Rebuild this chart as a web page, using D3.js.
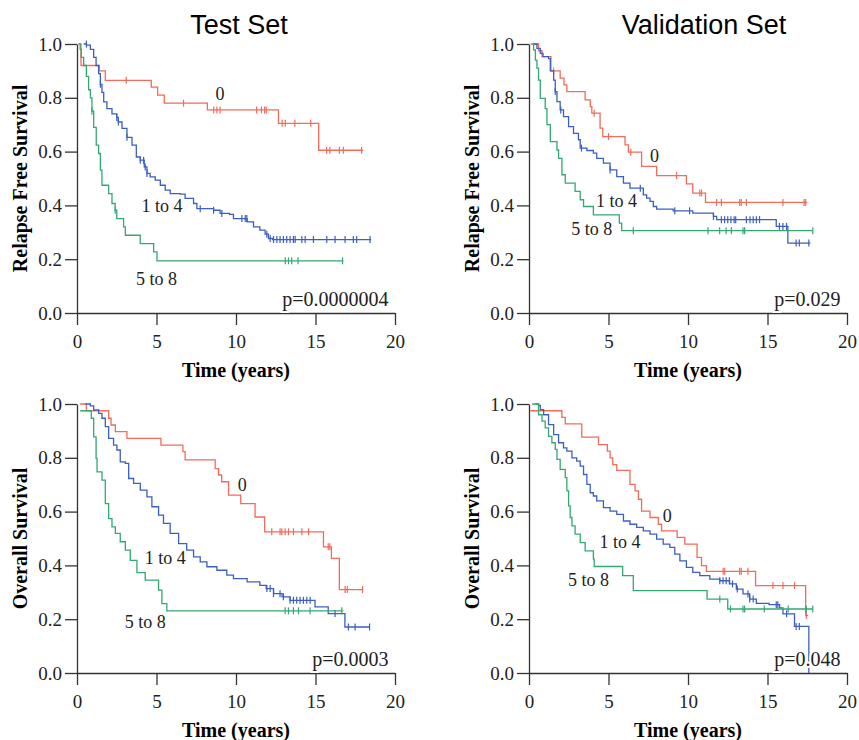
<!DOCTYPE html>
<html>
<head>
<meta charset="utf-8">
<script src="https://cdn.jsdelivr.net/npm/d3@7"></script>
<style>
  body { margin: 0; background: #fff; }
  svg { display: block; }
</style>
</head>
<body>
<svg width="859" height="740"></svg>
<script>
// Kaplan-Meier curves: [time, survival after step], censor times
var groups = ["0", "1 to 4", "5 to 8"];
var colors = ["#f26b5b", "#3b5fc2", "#34a872"];
var xTicks = [0, 5, 10, 15, 20];
var yTicks = [0, 0.2, 0.4, 0.6, 0.8, 1.0];

// Test set - relapse free survival
var testRfs0 = [[0.1,1],[0.25,0.92],[1.4,0.90],[1.78,0.865],[4.67,0.84],[5.07,0.81],[5.49,0.78],[8.2,0.755],[12.67,0.705],[15.2,0.605],[18.0,0.605]];
var testRfs0Cens = [3.1,6.7,8.6,8.8,9.0,11.3,11.6,11.8,11.9,12.9,13.1,13.7,14.7,15.7,15.9,16.5,16.75,17.9];
var testRfs14 = [[0.42,1],[0.6,0.996],[0.84,0.98],[1.05,0.95],[1.2,0.92],[1.36,0.89],[1.47,0.85],[1.57,0.82],[1.68,0.785],[1.88,0.76],[2.2,0.74],[2.5,0.727],[2.6,0.71],[2.83,0.686],[3.14,0.653],[3.46,0.624],[3.73,0.58],[3.98,0.568],[4.23,0.543],[4.4,0.519],[4.6,0.506],[4.92,0.494],[5.24,0.475],[5.55,0.457],[5.86,0.444],[6.5,0.442],[6.8,0.426],[7.33,0.407],[7.54,0.388],[8.59,0.382],[9.0,0.37],[9.6,0.367],[9.84,0.351],[10.7,0.339],[11.1,0.32],[11.5,0.308],[11.83,0.293],[12.04,0.277],[12.3,0.273],[18.5,0.273]];
var testRfs14Cens = [0.59,1.47,2.5,2.6,3.14,3.98,4.19,4.29,4.4,7.75,8.59,9.11,10.37,10.58,10.68,11.94,12.15,12.36,12.57,12.77,12.98,13.19,13.4,13.61,13.72,14.14,14.35,14.87,15.71,16.23,16.86,17.38,17.59,18.43];
var testRfs58 = [[0.1,1],[0.2,0.98],[0.27,0.95],[0.42,0.92],[0.59,0.88],[0.73,0.83],[0.84,0.80],[0.94,0.75],[1.05,0.69],[1.21,0.624],[1.36,0.593],[1.47,0.531],[1.57,0.475],[1.99,0.444],[2.2,0.407],[2.4,0.382],[2.5,0.351],[2.93,0.32],[3.04,0.289],[3.98,0.258],[4.82,0.227],[5.03,0.194],[16.75,0.194]];
var testRfs58Cens = [0.94,2.4,13.1,13.3,13.5,13.9,16.7];

// Validation set - relapse free survival
var valRfs0 = [[0.1,1],[0.6,0.975],[0.82,0.953],[1.38,0.90],[1.96,0.873],[2.2,0.848],[2.38,0.823],[3.53,0.792],[3.85,0.767],[3.95,0.743],[4.47,0.687],[4.64,0.656],[6.04,0.625],[6.25,0.598],[7.08,0.545],[8.03,0.511],[9.9,0.48],[10.3,0.446],[11.1,0.411],[17.5,0.411]];
var valRfs0Cens = [1.55,4.1,5.0,6.4,9.28,10.74,10.85,11.8,12.1,13.25,13.35,13.67,15.97,17.3,17.4];
var valRfs14 = [[0.3,1],[0.5,0.984],[0.71,0.965],[0.88,0.953],[1.23,0.946],[1.34,0.90],[1.55,0.866],[1.65,0.823],[1.76,0.786],[1.96,0.755],[2.17,0.73],[2.49,0.693],[2.8,0.668],[3.11,0.644],[3.22,0.613],[3.64,0.604],[4.05,0.594],[4.26,0.575],[4.68,0.557],[5.1,0.532],[5.52,0.507],[5.94,0.483],[6.35,0.464],[7.19,0.439],[7.4,0.427],[7.61,0.415],[7.82,0.396],[8.03,0.386],[9.07,0.38],[10.3,0.371],[11.6,0.359],[11.8,0.347],[15.55,0.322],[16.28,0.26],[17.7,0.26]];
var valRfs14Cens = [1.65,2.0,3.3,5.1,7.0,9.17,10.1,11.6,12.1,12.3,12.5,12.7,12.9,13.0,13.67,13.9,14.1,14.3,14.5,15.75,15.97,16.2,16.8,17.0,17.6];
var valRfs58 = [[0.2,1],[0.29,0.978],[0.4,0.94],[0.5,0.91],[0.6,0.866],[0.71,0.798],[1.02,0.76],[1.13,0.70],[1.34,0.637],[1.76,0.606],[1.86,0.575],[2.07,0.514],[2.28,0.483],[2.9,0.452],[3.22,0.421],[3.43,0.396],[4.05,0.365],[5.68,0.334],[5.83,0.306],[17.85,0.306]];
var valRfs58Cens = [6.56,11.26,11.99,12.4,12.73,13.46,13.56,17.85];

// Test set - overall survival
var testOs0 = [[0.2,1],[0.59,0.975],[1.99,0.947],[2.14,0.922],[2.41,0.897],[3.14,0.872],[5.28,0.847],[6.66,0.823],[6.8,0.792],[8.69,0.76],[8.9,0.736],[9.1,0.711],[9.53,0.661],[10.3,0.63],[11.2,0.58],[11.8,0.525],[15.5,0.469],[16.0,0.426],[16.5,0.31],[18.0,0.31]];
var testOs0Cens = [12.25,12.77,12.88,13.09,13.3,13.61,14.14,14.56,15.8,15.9,16.86,17.0,17.96];
var testOs14 = [[0.52,1],[0.84,0.993],[1.05,0.978],[1.36,0.965],[1.57,0.947],[1.78,0.916],[1.99,0.872],[2.3,0.847],[2.51,0.829],[2.72,0.785],[3.04,0.779],[3.25,0.723],[3.56,0.705],[3.98,0.68],[4.4,0.655],[4.71,0.618],[5.13,0.587],[5.44,0.556],[5.86,0.519],[6.39,0.481],[6.9,0.457],[7.33,0.432],[7.75,0.413],[8.17,0.395],[8.8,0.382],[9.42,0.364],[9.84,0.351],[10.7,0.339],[11.5,0.326],[11.9,0.314],[12.36,0.295],[12.9,0.283],[13.4,0.27],[14.97,0.246],[15.8,0.221],[16.85,0.171],[18.4,0.171]];
var testOs14Cens = [11.94,12.15,12.36,12.77,12.98,13.4,13.61,13.82,14.03,14.24,14.45,14.66,16.23,17.07,17.49,18.4];
var testOs58 = [[0.2,0.975],[0.9,0.947],[1.05,0.878],[1.2,0.798],[1.26,0.748],[1.57,0.717],[1.78,0.63],[1.99,0.574],[2.2,0.543],[2.41,0.519],[2.72,0.488],[3.04,0.457],[3.35,0.419],[3.77,0.373],[4.29,0.345],[5.13,0.308],[5.34,0.258],[5.65,0.231],[16.75,0.231]];
var testOs58Cens = [13.09,13.3,13.61,13.93,14.66,16.65];

// Validation set - overall survival
var valOs0 = [[0.08,0.975],[2.07,0.95],[2.28,0.926],[3.32,0.877],[4.37,0.849],[4.93,0.825],[5.1,0.8],[5.27,0.775],[5.52,0.753],[6.35,0.701],[6.67,0.677],[6.88,0.646],[7.08,0.602],[7.61,0.578],[8.13,0.553],[8.34,0.528],[9.32,0.504],[9.8,0.479],[10.57,0.43],[10.85,0.399],[11.16,0.378],[14.25,0.325],[17.4,0.214],[17.55,0.214]];
var valOs0Cens = [12.21,12.31,13.25,13.35,13.77,15.34,15.97,16.7,17.44];
var valOs14 = [[0.4,1],[0.6,0.995],[0.71,0.979],[0.92,0.96],[1.23,0.923],[1.55,0.886],[1.86,0.856],[2.17,0.837],[2.38,0.825],[2.7,0.8],[3.0,0.788],[3.22,0.769],[3.43,0.738],[3.64,0.701],[3.85,0.67],[4.05,0.658],[4.26,0.64],[4.68,0.615],[5.1,0.602],[5.52,0.59],[5.94,0.565],[6.35,0.553],[6.77,0.541],[7.19,0.528],[7.61,0.516],[8.03,0.498],[8.44,0.479],[8.86,0.467],[9.17,0.442],[9.49,0.417],[9.9,0.393],[10.3,0.374],[10.74,0.362],[11.37,0.349],[12.0,0.343],[12.62,0.331],[13.04,0.312],[13.46,0.294],[13.88,0.275],[14.3,0.259],[15.1,0.254],[15.76,0.242],[15.97,0.22],[16.7,0.173],[17.6,0.0]];
var valOs14Cens = [12.0,12.2,12.4,12.6,12.8,13.1,13.77,13.88,14.1,15.55,15.65,16.2,16.8,17.0];
var valOs58 = [[0.2,1],[0.6,0.96],[0.82,0.936],[1.02,0.911],[1.23,0.88],[1.44,0.856],[1.65,0.831],[1.76,0.794],[1.96,0.757],[2.28,0.726],[2.38,0.677],[2.49,0.621],[2.59,0.578],[2.7,0.547],[2.9,0.516],[3.22,0.485],[3.53,0.454],[4.05,0.423],[4.1,0.396],[5.89,0.362],[6.56,0.306],[11.2,0.275],[12.5,0.238],[17.85,0.238]];
var valOs58Cens = [12.0,12.67,13.46,13.56,14.8,16.3,17.44,17.85];

// group label positions [time, survival] and p-values
var testRfsLabels = [[9.0,0.815],[5.34,0.40],[5.0,0.128]];
var valRfsLabels = [[7.9,0.584],[5.5,0.418],[3.95,0.313]];
var testOsLabels = [[10.4,0.70],[5.55,0.43],[4.3,0.19]];
var valOsLabels = [[8.7,0.584],[5.73,0.489],[3.74,0.347]];
var pValues = ["p=0.0000004", "p=0.029", "p=0.0003", "p=0.048"];

var svg = d3.select("svg");
var w = 318, h = 269;

// titles
svg.append("text").attr("x", 239).attr("y", 34)
  .attr("text-anchor", "middle")
  .attr("font-family", "Liberation Sans, Arial, sans-serif")
  .attr("font-size", "27px").text("Test Set");
svg.append("text").attr("x", 704).attr("y", 34)
  .attr("text-anchor", "middle")
  .attr("font-family", "Liberation Sans, Arial, sans-serif")
  .attr("font-size", "27px").text("Validation Set");

var panels = [
  {left: 77, top: 44, ylab: "Relapse Free Survival", curves: [testRfs0, testRfs14, testRfs58], cens: [testRfs0Cens, testRfs14Cens, testRfs58Cens], labels: testRfsLabels, p: pValues[0]},
  {left: 529, top: 44, ylab: "Relapse Free Survival", curves: [valRfs0, valRfs14, valRfs58], cens: [valRfs0Cens, valRfs14Cens, valRfs58Cens], labels: valRfsLabels, p: pValues[1]},
  {left: 77, top: 404, ylab: "Overall Survival", curves: [testOs0, testOs14, testOs58], cens: [testOs0Cens, testOs14Cens, testOs58Cens], labels: testOsLabels, p: pValues[2]},
  {left: 529, top: 404, ylab: "Overall Survival", curves: [valOs0, valOs14, valOs58], cens: [valOs0Cens, valOs14Cens, valOs58Cens], labels: valOsLabels, p: pValues[3]}
];

var x = d3.scaleLinear().domain([0, 20]).range([0, w]);
var y = d3.scaleLinear().domain([0, 1]).range([h, 0]);

var line = d3.line()
  .x(function (d) { return x(d[0]); })
  .y(function (d) { return y(d[1]); })
  .curve(d3.curveStepAfter);

// survival value at time t from the step array
function survAt(curve, t) {
  var s = curve[0][1];
  curve.forEach(function (d) { if (d[0] <= t) s = d[1]; });
  return s;
}

panels.forEach(function (p) {
  var g = svg.append("g").attr("transform", "translate(" + p.left + "," + p.top + ")");

  // y axis
  var ya = g.append("g")
    .call(d3.axisLeft(y).tickValues(yTicks).tickFormat(d3.format(".1f")).tickSize(12).tickSizeOuter(0).tickPadding(3));
  // x axis
  var xa = g.append("g").attr("transform", "translate(0," + h + ")")
    .call(d3.axisBottom(x).tickValues(xTicks).tickSize(12).tickSizeOuter(0).tickPadding(10));
  [ya, xa].forEach(function (a) {
    a.selectAll("path, line").attr("stroke", "#333").attr("stroke-width", 1.3);
    a.selectAll("text").attr("font-family", "Liberation Serif, Times New Roman, serif")
      .attr("font-size", "19px").attr("fill", "#222");
  });

  // axis titles
  g.append("text")
    .attr("transform", "translate(-57," + (h / 2) + ") rotate(-90)")
    .attr("text-anchor", "middle").attr("dy", "0.35em")
    .attr("font-family", "Liberation Serif, Times New Roman, serif")
    .attr("font-weight", "bold").attr("font-size", "20px")
    .text(p.ylab);
  g.append("text")
    .attr("x", w / 2).attr("y", h + 64)
    .attr("text-anchor", "middle")
    .attr("font-family", "Liberation Serif, Times New Roman, serif")
    .attr("font-weight", "bold").attr("font-size", "20px")
    .text("Time (years)");

  // curves
  p.curves.forEach(function (c, i) {
    g.append("path").datum(c)
      .attr("d", line)
      .attr("fill", "none")
      .attr("stroke", colors[i])
      .attr("stroke-width", 1.3);
    g.selectAll(".cens" + i).data(p.cens[i]).enter()
      .append("line")
      .attr("x1", function (t) { return x(t); })
      .attr("x2", function (t) { return x(t); })
      .attr("y1", function (t) { return y(survAt(c, t)) - 3.5; })
      .attr("y2", function (t) { return y(survAt(c, t)) + 3.5; })
      .attr("stroke", colors[i])
      .attr("stroke-width", 1.2);
  });

  // group labels
  p.labels.forEach(function (l, i) {
    g.append("text")
      .attr("x", x(l[0])).attr("y", y(l[1]))
      .attr("dy", "0.35em")
      .attr("text-anchor", "middle")
      .attr("font-family", "Liberation Serif, Times New Roman, serif")
      .attr("font-size", "18px").attr("fill", "#222")
      .text(groups[i]);
  });

  // p-value
  g.append("text")
    .attr("x", x(19.6)).attr("y", y(0.025))
    .attr("text-anchor", "end")
    .attr("font-family", "Liberation Serif, Times New Roman, serif")
    .attr("font-size", "20px").attr("fill", "#222")
    .attr("stroke", "#fff").attr("stroke-width", 4).attr("paint-order", "stroke")
    .text(p.p);
});
</script>
</body>
</html>
